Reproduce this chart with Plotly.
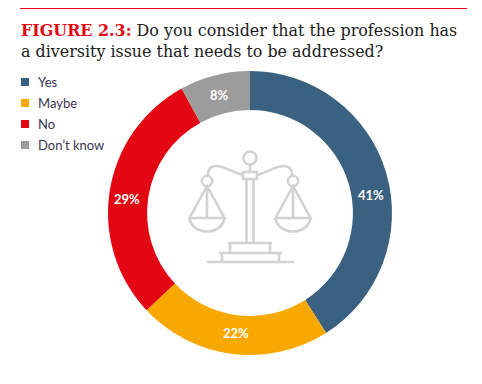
import plotly.graph_objects as go

categories = ["Yes", "Maybe", "No", "Don’t know"]
values = [41, 22, 29, 8]
colors = ["#3b6180", "#f9a800", "#e30613", "#9c9c9c"]
W, H = 482, 384
cx, cy, R = 250, 213, 142
label_pos = [(371, 195), (236, 333), (127, 199), (219, 95)]
legend_rows = [82, 103, 124, 145]
ICON = "#d2d2d2"

fig = go.Figure(go.Pie(
    labels=categories, values=values, hole=0.725, sort=False, direction="clockwise", rotation=0,
    marker=dict(colors=colors, line=dict(width=0)), textinfo="none", hoverinfo="label+percent",
    domain=dict(x=[(cx-R)/W, (cx+R)/W], y=[1-(cy+R)/H, 1-(cy-R)/H]), showlegend=False))

shapes = [dict(type="line", x0=20, x1=467, y0=8.5, y1=8.5, line=dict(color="#e30613", width=1))]
ann = []
def txt(x, y, t, size, color, family, anchor="left", bold=False):
    ann.append(dict(x=x, y=y, xref="x", yref="y", text=f"<b>{t}</b>" if bold else t, showarrow=False,
                    xanchor=anchor, yanchor="middle", font=dict(size=size, color=color, family=family)))

TF = "DejaVu Serif"
txt(19, 30, '<span style="color:#e30613"><b>FIGURE 2.3:</b></span> Do you consider that the profession has', 15.9, "#1a1a1a", TF)
txt(19, 51, "a diversity issue that needs to be addressed?", 15.9, "#1a1a1a", TF)

for c, col, y in zip(categories, colors, legend_rows):
    shapes.append(dict(type="rect", x0=21, x1=29, y0=y-4, y1=y+4, fillcolor=col, line=dict(width=0)))
    txt(35.5, y, c, 13, "#3a3550", "Lato")
for v, (x, y) in zip(values, label_pos):
    txt(x, y, f"{v}%", 13, "white", "Lato", "center", True)

def stroke(path):
    shapes.append(dict(type="path", path=path, line=dict(color=ICON, width=2.6), layer="above"))
def circle(x, y, r):
    shapes.append(dict(type="circle", x0=x-r, x1=x+r, y0=y-r, y1=y+r, line=dict(color=ICON, width=2.6)))

circle(250, 158, 6.5)
stroke("M 250 165 L 250 172")
stroke("M 243 172 L 257 172 L 257 179 L 243 179 Z")
stroke("M 246.5 179 L 246.5 243 M 253.5 179 L 253.5 243")
stroke("M 243 175 C 232 172 224 166 216 166 C 211 166 208 169 208 175")
stroke("M 257 175 C 268 172 276 166 284 166 C 289 166 292 169 292 175")
for px in (207, 293):
    circle(px, 181, 5.2)
    stroke(f"M {px} 186 L {px} 218 M {px} 186 L {px-17.5} 218 L {px+17.5} 218 Z")
    stroke(f"M {px-17.5} 218 C {px-15} 236 {px+15} 236 {px+17.5} 218")
stroke("M 228 243 L 272 243 M 230 243 L 230 253 M 270 243 L 270 253")
stroke("M 219 253 L 282 253 M 222 253 L 222 262 M 279 253 L 279 262")
stroke("M 207 262 L 294 262")

fig.update_layout(
    width=W, height=H, margin=dict(l=0, r=0, t=0, b=0), paper_bgcolor="white", plot_bgcolor="rgba(0,0,0,0)",
    xaxis=dict(range=[0, W], visible=False, fixedrange=True, domain=[0, 1]),
    yaxis=dict(range=[H, 0], visible=False, fixedrange=True, domain=[0, 1]),
    shapes=shapes, annotations=ann)
fig.add_trace(go.Scatter(x=[], y=[], showlegend=False))
fig.write_html("out.html", config=dict(displayModeBar=False), default_width=W, default_height=H,
               post_script="document.body.style.margin='0';document.body.style.overflow='hidden';")
